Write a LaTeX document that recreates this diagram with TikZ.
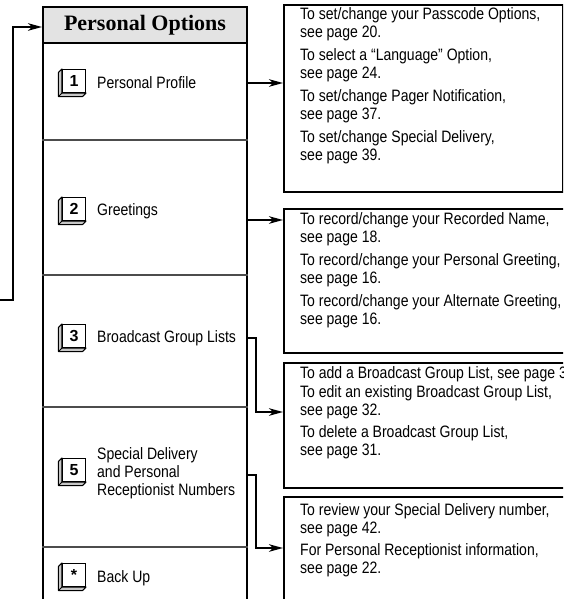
\documentclass[tikz,border=0pt]{standalone}
\usepackage{fontspec}
\setmainfont{Liberation Sans}[FakeStretch=0.85]
\newfontfamily\headfont{Liberation Serif}
\newfontfamily\keyfont{Liberation Sans}
\usetikzlibrary{arrows.meta,calc}

\tikzset{
  frame/.style={draw, line width=2pt, inner sep=0pt, anchor=north west},
  divider/.style={draw=black!70, line width=1.3pt},
  link/.style={line width=1.8pt, -{Stealth[length=14pt,width=7.5pt,inset=4pt]}},
  % anchored on the baseline of the last line
  entry/.style={anchor=base west, align=left, inner sep=0pt,
    font=\fontsize{16.5}{18}\selectfont},
  keycap/.style={draw, line width=1.1pt, fill=white, minimum size=23pt,
    inner sep=0pt, font=\keyfont\bfseries\fontsize{16}{16}\selectfont},
  bevel/.style={draw, line width=1pt, fill=black!22, line join=round},
}

\begin{document}
\begin{tikzpicture}[x=1pt, y=-1pt]
\useasboundingbox (0,0) rectangle (563,599);
\clip (0,0) rectangle (563,599);

% menu column
\node[frame, minimum width=204pt, minimum height=620pt] (colbox) at (42,6) {};
\node[frame, fill=black!11, minimum width=204pt, minimum height=36pt] (head) at (42,6)
  {\headfont\bfseries\fontsize{22}{22}\selectfont Personal Options};
\foreach \y in {140,275,407,547}
  \draw[divider] (colbox.west |- 0,\y) -- (colbox.east |- 0,\y);

% key caps with their bevel
\foreach \k/\y/\t in {k1/81/1, k2/209/2, k3/336/3, k5/470/5, ks/575/*} {
  \node[keycap] (\k) at (74,\y) {\t};
  \path[bevel] (\k.north west) -- ++(-3.5,3.5) -- ($(\k.south west)+(-3.5,3.5)$)
    -- ($(\k.south east)+(-3.5,3.5)$) -- (\k.south east) -- (\k.south west) -- cycle;
  \draw[line width=1pt] (\k.south west) -- ++(-3.5,3.5);
  \node[keycap] at (\k) {\t};
}

% menu entries
\node[entry] (t1) at (97,88.5) {Personal Profile};
\node[entry] (t2) at (97,215.5) {Greetings};
\node[entry] (t3) at (97,342.5) {Broadcast Group Lists};
\node[entry] (t5) at (97,495.5) {Special Delivery\\and Personal\\Receptionist Numbers};
\node[entry] (ts) at (97,582.5) {Back Up};

% information boxes
\node[frame, minimum width=278.5pt, minimum height=187pt] (info1) at (283,4) {};
\node[frame, minimum width=300pt, minimum height=144pt] (info2) at (283,208) {};
\node[frame, minimum width=300pt, minimum height=125pt] (info3) at (283,362) {};
\node[frame, minimum width=300pt, minimum height=120pt] (info4) at (283,496) {};

\node[entry] (a1) at (300,37.5) {To set/change your Passcode Options,\\see page 20.};
\node[entry] (a2) at (300,78.5) {To select a “Language” Option,\\see page 24.};
\node[entry] (a3) at (300,119.5) {To set/change Pager Notification,\\see page 37.};
\node[entry] (a4) at (300,160.5) {To set/change Special Delivery,\\see page 39.};

\node[entry] (b1) at (300,242.5) {To record/change your Recorded Name,\\see page 18.};
\node[entry] (b2) at (300,283.5) {To record/change your Personal Greeting,\\see page 16.};
\node[entry] (b3) at (300,324.5) {To record/change your Alternate Greeting,\\see page 16.};

\node[entry] (c1) at (300,378.5) {To add a Broadcast Group List, see page 30.};
\node[entry] (c2) at (300,415.5) {To edit an existing Broadcast Group List,\\see page 32.};
\node[entry] (c3) at (300,455.5) {To delete a Broadcast Group List,\\see page 31.};

\node[entry] (d1) at (300,533.5) {To review your Special Delivery number,\\see page 42.};
\node[entry] (d2) at (300,573.5) {For Personal Receptionist information,\\see page 22.};

% connectors
\coordinate (back) at (0,300);
\coordinate (o1) at (246,83);
\coordinate (o2) at (246,220);
\coordinate (o3) at (246,338);
\coordinate (o5) at (246,475);
\draw[link] (back) -- (13,300) -- (13,27) -- (head.west |- 0,27);
\draw[link] (o1) -- (info1.west |- o1);
\draw[link] (o2) -- (info2.west |- o2);
\draw[link] (o3) -- (256,338) -- (256,412) -- (info3.west |- 0,412);
\draw[link] (o5) -- (256,475) -- (256,548) -- (info4.west |- 0,548);
\end{tikzpicture}
\end{document}
